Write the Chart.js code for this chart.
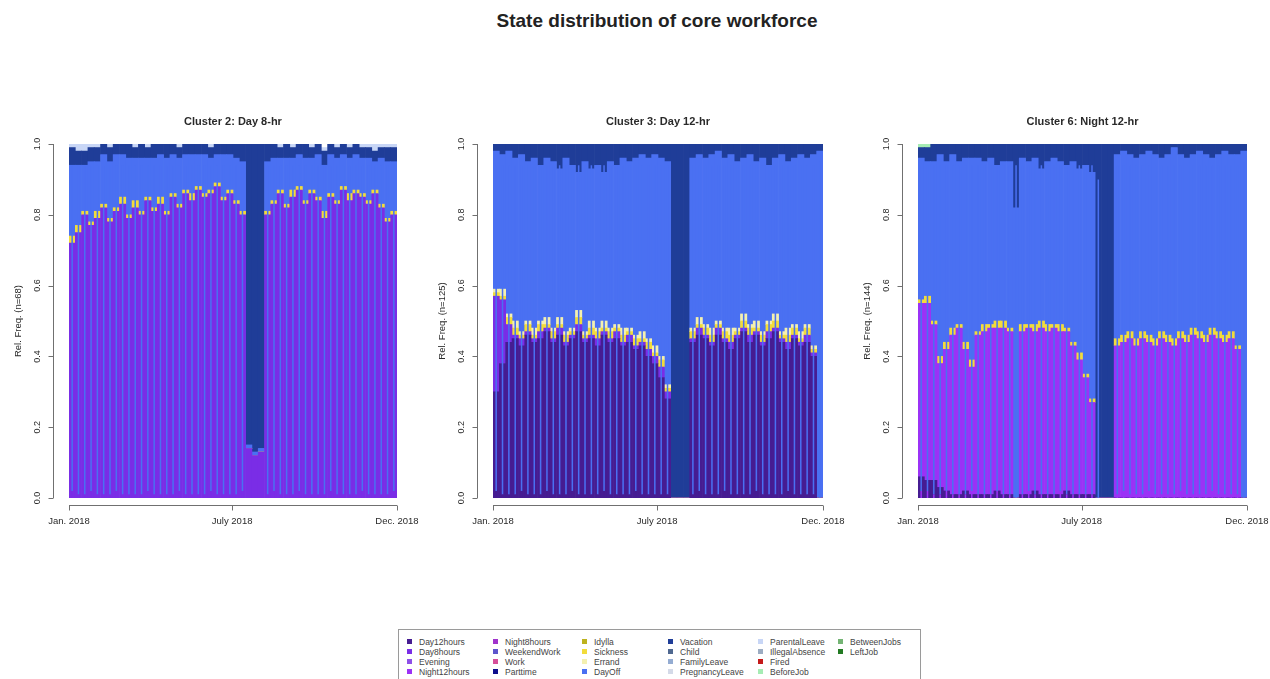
<!DOCTYPE html>
<html>
<head>
<meta charset="utf-8">
<title>State distribution of core workforce</title>
<script src="https://cdn.jsdelivr.net/npm/chart.js@4/dist/chart.umd.min.js"></script>
<style>
  body { margin: 0; background: #fff; width: 1270px; height: 679px; overflow: hidden; position: relative;
         font-family: "Liberation Sans", Arial, sans-serif; }
  #mainTitle { position: absolute; left: 0; top: 10px; width: 1314px; text-align: center;
               font-weight: bold; font-size: 19px; color: #222; }
  canvas { position: absolute; top: 0; }
  #legend { position: absolute; left: 398px; top: 629px; width: 523px; height: 54px;
            border: 1px solid #9a9a9a; box-sizing: border-box; }
  .item { position: absolute; font-size: 8.5px; line-height: 10px; color: #444; white-space: nowrap; }
  .sw { display: inline-block; width: 5px; height: 5px; margin-right: 7px; vertical-align: 1px; }
</style>
</head>
<body>
<div id="mainTitle">State distribution of core workforce</div>
<canvas id="c1" width="423" height="560" style="left:0px"></canvas>
<canvas id="c2" width="423" height="560" style="left:423px"></canvas>
<canvas id="c3" width="424" height="560" style="left:846px"></canvas>
<div id="legend"></div>
<script>
// states in sequence alphabet order (bottom of stack first)
const stateNames = ['Day12hours', 'Day8hours', 'Evening', 'Night12hours', 'Night8hours', 'WeekendWork',
  'Work', 'Parttime', 'Idylla', 'Sickness', 'Errand', 'DayOff', 'Vacation', 'Child', 'FamilyLeave',
  'PregnancyLeave', 'ParentalLeave', 'IllegalAbsence', 'Fired', 'BeforeJob', 'BetweenJobs', 'LeftJob'];
const stateColors = ['#461c92', '#7a2de6', '#8e4fe8', '#9b32f6', '#a033cc', '#5d55cc',
  '#d64f9a', '#0e0e8c', '#bdb21e', '#f2dc3a', '#f4f0b0', '#4a70f2', '#1f3d98', '#4f6890', '#94acd2',
  '#d4dae8', '#c8d6f6', '#9cacc2', '#c41a1a', '#a6ecb4', '#74b474', '#227a22'];

const weekLabels = ['W1', 'W2', 'W3', 'W4', 'W5', 'W6', 'W7', 'W8', 'W9', 'W10', 'W11', 'W12', 'W13',
  'W14', 'W15', 'W16', 'W17', 'W18', 'W19', 'W20', 'W21', 'W22', 'W23', 'W24', 'W25', 'W26',
  'W27', 'W28', 'W29', 'W30', 'W31', 'W32', 'W33', 'W34', 'W35', 'W36', 'W37', 'W38', 'W39',
  'W40', 'W41', 'W42', 'W43', 'W44', 'W45', 'W46', 'W47', 'W48', 'W49', 'W50', 'W51', 'W52'];

const yTicks = [0, 0.2, 0.4, 0.6, 0.8, 1.0];
const yTickLabels = ['0.0', '0.2', '0.4', '0.6', '0.8', '1.0'];
const monthTickWeeks = [0, 25.86, 52];
const monthTickLabels = ['Jan. 2018', 'July 2018', 'Dec. 2018'];

// Cluster 2: Day 8-hr, weekday shares per week
const p1Day8hours = [.72,.75,.80,.77,.79,.82,.78,.81,.83,.79, .82,.80,.84,.81,.83,.80,.85,.82,.86,.84,
  .87,.85,.86,.88,.84,.86,.83,.80,.14,.12, .13,.80,.83,.86,.82,.85,.87,.83,.86,.84,
  .79,.85,.83,.87,.84,.86,.85,.83,.86,.82, .78,.80];
const p1Sickness = [.02,.02,.01,.01,.02,.01,.01,.01,.02,.01, .02,.01,.01,.01,.02,.01,.01,.01,.01,.02,
  .01,.01,.01,.01,.01,.01,.01,.01,0,0, 0,.01,.01,.01,.01,.02,.01,.01,.01,.01,
  .02,.01,.01,.01,.02,.01,.01,.01,.01,.01, .01,.01];
const p1DayOff = [.20,.17,.13,.17,.14,.14,.16,.15,.12,.16, .12,.15,.11,.14,.12,.15,.11,.13,.10,.11,
  .09,.11,.09,.08,.12,.10,.12,.14,.01,.01, .01,.14,.12,.09,.13,.09,.09,.12,.09,.12,
  .13,.11,.12,.09,.10,.10,.10,.12,.08,.13, .16,.14];
const p1Vacation = [.05,.04,.04,.04,.04,.03,.04,.03,.03,.04, .03,.04,.03,.04,.03,.04,.03,.03,.03,.03,
  .03,.03,.03,.03,.03,.03,.04,.05,.85,.87, .86,.05,.04,.03,.04,.03,.03,.04,.03,.03,
  .04,.03,.03,.03,.03,.03,.03,.03,.03,.03, .04,.04];
const p1ParentalLeave = [.03,.02,.03,.02,.02,.01,.02,.01,.02,.01, .01,.02,.01,.01,.02,.01,.01,.02,.01,.01,
  .02,.01,.01,.01,.01,.02,.01,.01,.01,.01, .01,.01,.01,.01,.02,.01,.01,.01,.01,.01,
  .01,.01,.01,.01,.01,.02,.02,.03,.03,.02, .02,.02];
// weekend share per week
const p1WeekendWork = [.02,.01,.01,.02,.01,.01,.01,.02,.01,.01, .01,.01,.02,.01,.01,.01,.01,.02,.01,.01,
  .01,.01,.02,.01,.01,.01,.01,.02,0,0, 0,.01,.02,.01,.01,.01,.02,.01,.01,.01,
  .01,.02,.01,.01,.01,.01,.02,.01,.01,.01, .01,.02];
const p1WeekendOff = [.92,.93,.93,.92,.93,.93,.93,.92,.93,.93, .93,.93,.92,.93,.93,.93,.93,.92,.93,.93,
  .93,.93,.92,.93,.93,.93,.93,.92,0,0, 0,.93,.92,.93,.93,.93,.92,.93,.93,.93,
  .93,.92,.93,.93,.93,.93,.92,.93,.93,.93, .93,.92];

// Cluster 3: Day 12-hr
const p2Day12hours = [.30,.38,.44,.45,.43,.46,.44,.45,.47,.44, .46,.43,.45,.47,.44,.45,.43,.46,.44,.45,
  .43,.44,.42,.43,.40,.38,.34,.28,0,0, 0,.44,.46,.45,.43,.46,.44,.42,.45,.47,
  .44,.46,.43,.45,.47,.44,.42,.45,.43,.44, .40,0];
const p2Day8hours = [.27,.18,.05,.01,.02,.01,.01,.02,.01,.01, .02,.01,.01,.02,.01,.01,.02,.01,.01,.02,
  .01,.02,.01,.01,.02,.02,.03,.02,0,0, 0,.01,.02,.01,.01,.02,.01,.02,.01,.01,
  .02,.01,.01,.02,.01,.01,.02,.01,.01,.02, .01,0];
const p2Sickness = [.01,.01,.02,.02,.01,.02,.01,.02,.01,.02, .01,.02,.01,.02,.01,.02,.02,.01,.02,.01,
  .02,.01,.02,.01,.02,.01,.02,.01,0,0, 0,.02,.01,.02,.02,.01,.02,.02,.01,.02,
  .02,.01,.02,.02,.02,.01,.02,.02,.01,.02, .01,0];
const p2Errand = [.01,.02,.01,.02,.01,.01,.02,.01,.02,.01, .02,.01,.01,.02,.01,.02,.01,.02,.01,.01,
  .02,.01,.01,.02,.01,.02,.01,.01,0,0, 0,.01,.02,.01,.02,.01,.01,.02,.01,.02,
  .01,.02,.01,.01,.02,.01,.02,.01,.02,.01, .01,0];
const p2DayOff = [.39,.38,.46,.46,.50,.45,.48,.44,.45,.47, .42,.49,.46,.39,.48,.43,.46,.42,.47,.45,
  .48,.47,.50,.50,.51,.54,.56,.63,0,0, 0,.48,.46,.47,.49,.48,.48,.49,.47,.44,
  .48,.45,.49,.44,.44,.50,.47,.47,.50,.47, .54,.98];
const p2Vacation = [.03,.04,.03,.05,.04,.06,.05,.07,.05,.06, .08,.05,.07,.09,.06,.08,.07,.09,.06,.07,
  .05,.06,.05,.04,.05,.04,.05,.06,1,1, 1,.05,.04,.05,.04,.03,.05,.04,.06,.05,
  .04,.06,.05,.07,.05,.04,.06,.05,.04,.05, .04,.03];
const p2WeekendWork = [.02,.01,.01,.01,.02,.01,.01,.01,.02,.01, .01,.01,.02,.01,.01,.01,.01,.02,.01,.01,
  .01,.01,.02,.01,.01,.01,.01,.01,0,0, 0,.01,.02,.01,.01,.01,.02,.01,.01,.01,
  .01,.02,.01,.01,.01,.01,.02,.01,.01,.01, .01,0];
const p2WeekendOff = [.92,.93,.93,.93,.92,.93,.93,.93,.92,.93, .93,.93,.92,.93,.93,.93,.93,.92,.93,.93,
  .93,.93,.92,.93,.93,.93,.93,.93,0,0, 0,.93,.92,.93,.93,.93,.92,.93,.93,.93,
  .93,.92,.93,.93,.93,.93,.92,.93,.93,.93, .93,.95];

// Cluster 6: Night 12-hr
const p3Day12hours = [.06,.05,.05,.03,.02,.01,.01,.02,.01,.01, .01,.01,.02,.01,.01,0,.01,.01,.02,.01,
  .01,.01,.01,.02,.01,.01,.01,.01,0,0, 0,0,0,0,0,0,0,0,0,0,
  0,0,0,0,0,0,0,0,0,0, 0,0];
const p3Night12hours = [.49,.50,.44,.35,.40,.45,.47,.40,.36,.45, .46,.47,.46,.47,.46,0,.46,.47,.45,.47,
  .46,.47,.46,.45,.42,.38,.33,.26,0,0, 0,.43,.44,.45,.43,.45,.44,.43,.45,.44,
  .43,.45,.44,.46,.45,.44,.46,.45,.44,.45, .42,0];
const p3Sickness = [.01,.02,.01,.02,.02,.02,.01,.02,.02,.01, .02,.01,.02,.02,.01,0,.02,.01,.02,.02,
  .02,.01,.02,.01,.01,.02,.01,.01,0,0, 0,.02,.02,.02,.02,.02,.02,.02,.02,.02,
  .02,.02,.02,.02,.02,.02,.02,.02,.02,.02, .01,0];
const p3DayOff = [.40,.38,.45,.57,.51,.49,.46,.52,.57,.49, .46,.47,.44,.45,.47,.82,.47,.46,.47,.43,
  .46,.47,.46,.46,.51,.52,.59,.64,0,0, 0,.52,.52,.50,.51,.50,.52,.52,.49,.51,
  .54,.50,.50,.49,.51,.51,.48,.50,.52,.50, .54,.98];
const p3Vacation = [.03,.04,.05,.04,.05,.04,.06,.05,.04,.05, .06,.05,.07,.05,.06,.19,.05,.06,.05,.07,
  .06,.05,.06,.07,.06,.08,.07,.09,1,1, 1,.04,.03,.04,.05,.04,.03,.04,.05,.04,
  .03,.04,.05,.04,.03,.04,.05,.04,.03,.04, .04,.03];
const p3BeforeJob = [.02,.02,.01,0,0,0,0,0,0,0, 0,0,0,0,0,0,0,0,0,0,
  0,0,0,0,0,0,0,0,0,0, 0,0,0,0,0,0,0,0,0,0,
  0,0,0,0,0,0,0,0,0,0, 0,0];
const p3WeekendWork = [.02,.02,.01,.01,.02,.01,.01,.01,.02,.01, .01,.01,.02,.01,.01,0,.01,.02,.01,.01,
  .01,.01,.02,.01,.01,.01,.01,.01,0,0, 0,.01,.02,.01,.01,.01,.02,.01,.01,.01,
  .01,.02,.01,.01,.01,.01,.02,.01,.01,.01, .01,0];
const p3WeekendOff = [.92,.92,.93,.93,.92,.93,.93,.93,.92,.93, .93,.93,.92,.93,.93,.94,.93,.92,.93,.93,
  .93,.93,.92,.93,.93,.93,.93,.93,.90,0, 0,.93,.92,.93,.93,.93,.92,.93,.93,.93,
  .93,.92,.93,.93,.93,.93,.92,.93,.93,.93, .93,.95];

const colorOf = Object.fromEntries(stateNames.map((n, i) => [n, stateColors[i]]));
const FONT = '"Liberation Sans", Arial, sans-serif';

const panels = [
  { id: 'c1', title: 'Cluster 2: Day 8-hr', yTitle: 'Rel. Freq. (n=68)',
    pad: { left: 69, right: 26, top: 144, bottom: 62 },
    weekday: [['Day8hours', p1Day8hours], ['Sickness', p1Sickness], ['DayOff', p1DayOff],
              ['Vacation', p1Vacation], ['ParentalLeave', p1ParentalLeave]],
    weekend: [['Day8hours', p1WeekendWork], ['DayOff', p1WeekendOff]] },
  { id: 'c2', title: 'Cluster 3: Day 12-hr', yTitle: 'Rel. Freq. (n=125)',
    pad: { left: 70, right: 23, top: 144, bottom: 62 },
    weekday: [['Day12hours', p2Day12hours], ['Day8hours', p2Day8hours], ['Sickness', p2Sickness],
              ['Errand', p2Errand], ['DayOff', p2DayOff], ['Vacation', p2Vacation]],
    weekend: [['Day12hours', p2WeekendWork], ['DayOff', p2WeekendOff]] },
  { id: 'c3', title: 'Cluster 6: Night 12-hr', yTitle: 'Rel. Freq. (n=144)',
    pad: { left: 72, right: 23, top: 144, bottom: 62 },
    weekday: [['Day12hours', p3Day12hours], ['Night12hours', p3Night12hours], ['Sickness', p3Sickness],
              ['DayOff', p3DayOff], ['Vacation', p3Vacation], ['BeforeJob', p3BeforeJob]],
    weekend: [['Night12hours', p3WeekendWork], ['DayOff', p3WeekendOff]] }
];

// R-style detached axes, panel title and axis titles
const rAxes = {
  id: 'rAxes',
  afterDraw(chart, args, opts) {
    const { ctx, chartArea: a, scales: { x, y } } = chart;
    ctx.save();
    ctx.fillStyle = '#2a2a2a';
    ctx.strokeStyle = '#707070';
    ctx.lineWidth = 1;
    ctx.textAlign = 'center';
    ctx.textBaseline = 'middle';

    ctx.font = 'bold 11px ' + FONT;
    ctx.fillText(opts.title, (a.left + a.right) / 2, 122);

    // y axis
    const ax = Math.round(a.left - 16) + 0.5;
    ctx.beginPath();
    ctx.moveTo(ax, y.getPixelForValue(0));
    ctx.lineTo(ax, y.getPixelForValue(1));
    yTicks.forEach(v => {
      const py = Math.round(y.getPixelForValue(v)) + 0.5;
      ctx.moveTo(ax, py);
      ctx.lineTo(ax - 5, py);
    });
    // x axis
    const ay = Math.round(a.bottom + 7) + 0.5;
    const xs = monthTickWeeks.map(w => x.getPixelForValue(w - 0.5));
    ctx.moveTo(xs[0], ay);
    ctx.lineTo(xs[xs.length - 1], ay);
    xs.forEach(px => {
      ctx.moveTo(Math.round(px) + 0.5, ay);
      ctx.lineTo(Math.round(px) + 0.5, ay + 5);
    });
    ctx.stroke();

    ctx.font = '9px ' + FONT;
    yTicks.forEach((v, i) => {
      ctx.save();
      ctx.translate(a.left - 31, y.getPixelForValue(v));
      ctx.rotate(-Math.PI / 2);
      ctx.fillText(yTickLabels[i], 0, 0);
      ctx.restore();
    });
    ctx.font = '9.5px ' + FONT;
    ctx.save();
    ctx.translate(a.left - 51, (a.top + a.bottom) / 2);
    ctx.rotate(-Math.PI / 2);
    ctx.fillText(opts.yTitle, 0, 0);
    ctx.restore();

    xs.forEach((px, i) => ctx.fillText(monthTickLabels[i], px, ay + 16));
    ctx.restore();
  }
};

function layer(name, values, stack, pct) {
  return {
    label: name,
    data: values,
    backgroundColor: colorOf[name],
    stack: stack,
    grouped: false,
    barPercentage: pct,
    categoryPercentage: 1,
    borderWidth: 0,
    order: stack === 'weekend' ? 0 : 1
  };
}

panels.forEach(p => {
  const datasets = p.weekday.map(([n, v]) => layer(n, v, 'weekday', 1))
    .concat(p.weekend.map(([n, v]) => layer(n, v, 'weekend', 0.24)));
  new Chart(document.getElementById(p.id), {
    type: 'bar',
    data: { labels: weekLabels, datasets },
    options: {
      responsive: false,
      animation: false,
      events: [],
      layout: { padding: p.pad },
      plugins: {
        legend: { display: false },
        tooltip: { enabled: false },
        rAxes: { title: p.title, yTitle: p.yTitle }
      },
      scales: {
        x: { display: false, stacked: true },
        y: { display: false, stacked: true, min: 0, max: 1 }
      }
    },
    plugins: [rAxes]
  });
});

// legend box, filled column by column (4 rows)
const legendEl = document.getElementById('legend');
const colX = [8, 94, 183, 269, 359, 439];
stateNames.forEach((n, i) => {
  const col = Math.floor(i / 4), row = i % 4;
  const el = document.createElement('div');
  el.className = 'item';
  el.style.left = colX[col] + 'px';
  el.style.top = (7 + row * 10) + 'px';
  el.innerHTML = '<span class="sw" style="background:' + stateColors[i] + '"></span>' + n;
  legendEl.appendChild(el);
});
</script>
</body>
</html>
